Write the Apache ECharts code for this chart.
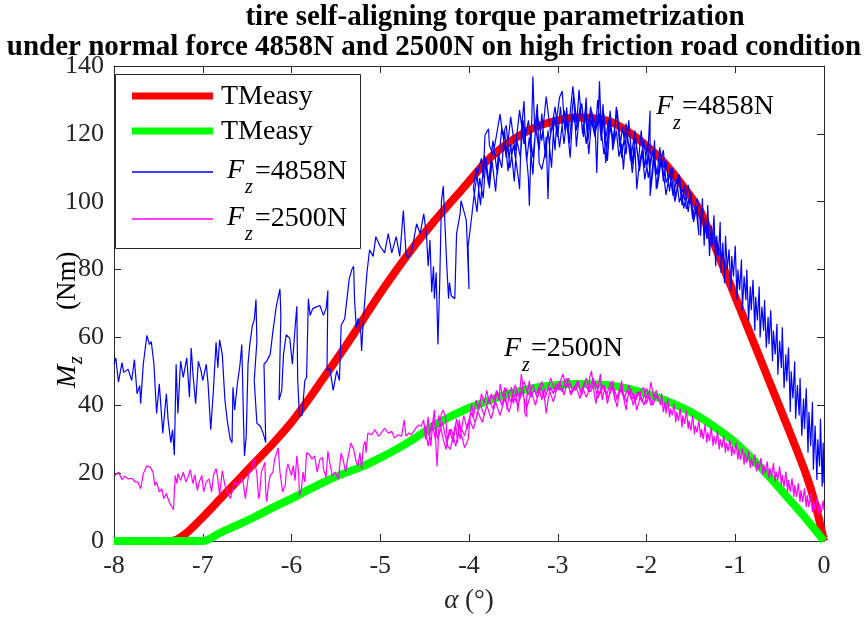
<!DOCTYPE html>
<html>
<head>
<meta charset="utf-8">
<script src="https://cdn.jsdelivr.net/npm/echarts@6/dist/echarts.min.js"></script>
<style>
html, body { margin: 0; padding: 0; background: #fff; }
#chart { width: 867px; height: 619px; }
</style>
</head>
<body>
<div id="chart"></div>
<script>
// Axis ranges and tick steps
const xRange = [-8, 0];
const xStep = 1;
const yRange = [0, 140];
const yStep = 20;

// TMeasy model curve, Fz = 4858 N  [alpha (deg), Mz (Nm)]
const tmeasy4858 = [
  [-8.0, 0], [-7.35, 0], [-7.2, 2], [-7.0, 7], [-6.8, 12.5], [-6.6, 18], [-6.4, 23.5],
  [-6.2, 29], [-6.0, 35], [-5.8, 42], [-5.6, 49.5], [-5.4, 57], [-5.2, 65], [-5.0, 73],
  [-4.8, 80.5], [-4.6, 87.5], [-4.4, 94], [-4.2, 100], [-4.0, 106], [-3.8, 112],
  [-3.6, 116.5], [-3.4, 120], [-3.2, 122.5], [-3.0, 124], [-2.8, 124.8], [-2.6, 124.6],
  [-2.4, 123.5], [-2.2, 120.5], [-2.0, 116.5], [-1.8, 111.5], [-1.6, 105], [-1.4, 97.5],
  [-1.2, 85], [-1.1, 78.5], [-1.0, 72], [-0.8, 59], [-0.6, 46], [-0.4, 33], [-0.2, 19.5],
  [-0.1, 11], [0, 0]
];

// TMeasy model curve, Fz = 2500 N
const tmeasy2500 = [
  [-8.0, 0], [-7.0, 0], [-6.8, 2.5], [-6.6, 4.8], [-6.4, 7.3], [-6.2, 10], [-6.0, 12.5],
  [-5.8, 15.2], [-5.6, 17.8], [-5.4, 20], [-5.2, 22], [-5.0, 24.5], [-4.8, 27.3],
  [-4.6, 30.5], [-4.4, 34], [-4.2, 36.8], [-4.0, 39.2], [-3.8, 41.2], [-3.6, 43],
  [-3.4, 44.4], [-3.2, 45.4], [-3.0, 46], [-2.8, 46.3], [-2.6, 46.2], [-2.4, 45.8],
  [-2.2, 44.8], [-2.0, 43.4], [-1.8, 41.6], [-1.6, 39.3], [-1.4, 36.5], [-1.2, 33],
  [-1.0, 29], [-0.8, 24], [-0.6, 18.5], [-0.4, 12.5], [-0.2, 6.5], [0, 0]
];

// Measured self-aligning torque, Fz = 4858 N (several sweeps, so alpha runs back and forth)
const meas4858 = [
  [-8.00, 52.1], [-7.98, 54], [-7.95, 46.8], [-7.91, 52.6], [-7.89, 49.7], [-7.84, 50.6],
  [-7.80, 47.3], [-7.77, 53.5], [-7.74, 43.4], [-7.71, 45.8], [-7.70, 40.5], [-7.67, 52.1],
  [-7.63, 60.6], [-7.60, 57.9], [-7.58, 58.8], [-7.55, 52.1], [-7.52, 37.6], [-7.49, 46.3],
  [-7.45, 31.8], [-7.41, 43.4], [-7.39, 35.7], [-7.36, 29], [-7.34, 32.8], [-7.32, 25.3],
  [-7.30, 52.1], [-7.28, 37.6], [-7.25, 53], [-7.22, 48.2], [-7.18, 54], [-7.15, 42.4],
  [-7.13, 56.9], [-7.11, 49.2], [-7.08, 40.5], [-7.05, 53], [-7.02, 50.2], [-7.00, 47.3],
  [-6.96, 52.1], [-6.94, 46.3], [-6.91, 32.8], [-6.88, 44.4], [-6.85, 58.6], [-6.83, 51.1],
  [-6.81, 59.3], [-6.78, 55], [-6.75, 41.5], [-6.72, 34.7], [-6.69, 29.9], [-6.67, 29],
  [-6.66, 45.3], [-6.64, 38.6], [-6.61, 46.3], [-6.58, 52.1], [-6.56, 57.9], [-6.54, 34.7],
  [-6.53, 25.1], [-6.51, 30.9], [-6.49, 52.1], [-6.47, 57.9], [-6.44, 63.6], [-6.42, 65.1],
  [-6.40, 71.2], [-6.39, 58.8], [-6.42, 47.3], [-6.39, 34.7], [-6.35, 33.8], [-6.32, 31.8],
  [-6.29, 29], [-6.31, 52.1], [-6.28, 53], [-6.24, 55], [-6.21, 61.7], [-6.17, 69.4],
  [-6.13, 74.3], [-6.12, 66.5], [-6.14, 41.5], [-6.11, 44.4], [-6.09, 55], [-6.06, 60.8],
  [-6.02, 59.8], [-5.99, 52.1], [-5.96, 62.7], [-5.94, 69.2], [-5.93, 47.3], [-5.91, 36.7],
  [-5.88, 37.1], [-5.85, 47.3], [-5.83, 48.2], [-5.81, 71.4], [-5.79, 66.5], [-5.76, 68.5],
  [-5.72, 69], [-5.68, 69.4], [-5.64, 66.5], [-5.61, 68.5], [-5.59, 73.8], [-5.60, 50.2],
  [-5.57, 51.1], [-5.53, 44.4], [-5.49, 50.2], [-5.46, 47.3],
  [-5.44, 63.6], [-5.40, 65.6], [-5.35, 77.2], [-5.32, 80], [-5.30, 81], [-5.29, 71.4],
  [-5.27, 62.7], [-5.25, 65.6], [-5.22, 61.7], [-5.21, 56], [-5.19, 65.6], [-5.15, 79.1],
  [-5.12, 85.8], [-5.08, 83.9], [-5.05, 89.7], [-5.00, 86.8], [-4.95, 84.9], [-4.91, 90.6],
  [-4.87, 84.9], [-4.82, 89.7], [-4.78, 83.9], [-4.74, 97.4], [-4.71, 84.9], [-4.69, 83.4],
  [-4.65, 84.9], [-4.59, 93.5], [-4.55, 90.6], [-4.51, 96.4], [-4.48, 90.6], [-4.46, 81],
  [-4.44, 88.7], [-4.42, 73.3], [-4.40, 81], [-4.39, 71.4], [-4.37, 79.1], [-4.35, 57.9],
  [-4.33, 76.2], [-4.31, 100.3], [-4.29, 104.6], [-4.27, 104.1], [-4.25, 81], [-4.23, 71.4],
  [-4.22, 76.2], [-4.20, 72.3], [-4.16, 71.4], [-4.14, 90.6], [-4.10, 96.4], [-4.09, 100.3],
  [-4.07, 98.4], [-4.03, 94.5], [-4.00, 74.3], [-4.01, 86.8], [-3.97, 95.5], [-3.95, 100.3],
  [-3.92, 106.1], [-3.89, 109.9], [-3.86, 112.8], [-3.84, 107], [-3.82, 119.6], [-3.78, 121.5],
  [-3.77, 116.7], [-3.73, 113.8], [-3.69, 119.6], [-3.65, 125.8], [-3.62, 119.6], [-3.58, 122.5],
  [-3.54, 109.9], [-3.50, 116.7], [-3.47, 111.9], [-3.44, 106.1],
  [-3.43, 103.7], [-3.41, 121], [-3.38, 129.7], [-3.36, 116.2], [-3.33, 106.6], [-3.32, 98.8],
  [-3.30, 117.2], [-3.28, 136.9], [-3.26, 121], [-3.23, 128.7], [-3.21, 111.4], [-3.18, 109.5],
  [-3.15, 113.3], [-3.13, 119.1], [-3.11, 100.8], [-3.09, 118.1], [-3.06, 123], [-3.03, 115.2],
  [-3.01, 124.9], [-2.98, 130.7], [-2.95, 132.6], [-2.92, 121], [-2.90, 127.8], [-2.87, 117.2],
  [-2.85, 123], [-2.82, 131.6], [-2.79, 116.2], [-2.75, 127.8], [-2.71, 119.1], [-2.68, 130.7],
  [-2.66, 118.1], [-2.62, 126.8], [-2.58, 123], [-2.56, 108.5], [-2.53, 135.5], [-2.51, 121],
  [-2.49, 128.7], [-2.46, 111.4], [-2.43, 121], [-2.41, 126.8], [-2.38, 115.2], [-2.34, 121],
  [-2.31, 113.3], [-2.28, 117.2], [-2.26, 109.5], [-2.23, 120], [-2.19, 116.2], [-2.16, 108.5],
  [-2.13, 116.2], [-2.11, 103.7], [-2.08, 111.4], [-2.05, 115.2], [-2.02, 106.6], [-1.99, 111.4],
  [-1.96, 126.8], [-1.96, 101.7], [-1.93, 108.5], [-1.91, 118.1], [-1.89, 103.7], [-1.85, 111.4],
  [-1.81, 115.2], [-1.78, 105.6], [-1.74, 108.5], [-1.70, 101.7], [-1.66, 106.6], [-1.63, 99.8],
  [-1.59, 103.7], [-1.55, 97.9], [-1.51, 101.7], [-1.48, 95], [-1.44, 97.9], [-1.41, 90.2],
  // return sweep
  [-1.43, 99], [-1.47, 94], [-1.50, 103], [-1.53, 97], [-1.57, 105], [-1.60, 99], [-1.64, 108],
  [-1.67, 101], [-1.71, 110], [-1.74, 103], [-1.78, 112], [-1.81, 106], [-1.85, 116], [-1.88, 108],
  [-1.92, 114], [-1.95, 105], [-1.99, 117], [-2.02, 110], [-2.06, 121], [-2.09, 112], [-2.13, 119],
  [-2.16, 111], [-2.20, 124], [-2.23, 114], [-2.27, 122], [-2.30, 116], [-2.34, 128], [-2.37, 117],
  [-2.41, 124], [-2.44, 112], [-2.48, 126], [-2.51, 118], [-2.55, 130], [-2.58, 119], [-2.62, 124],
  [-2.65, 114], [-2.69, 127], [-2.72, 120], [-2.76, 133], [-2.79, 121], [-2.83, 126], [-2.86, 113],
  [-2.90, 124], [-2.93, 117], [-2.97, 128], [-3.00, 119], [-3.04, 125], [-3.07, 110], [-3.11, 121],
  [-3.14, 113], [-3.18, 126], [-3.21, 115], [-3.25, 122], [-3.28, 108], [-3.32, 119], [-3.35, 112],
  [-3.39, 124], [-3.42, 113], [-3.46, 118], [-3.49, 106], [-3.53, 117], [-3.56, 109], [-3.60, 121],
  [-3.63, 110], [-3.67, 114], [-3.70, 103], [-3.74, 112], [-3.77, 104], [-3.81, 113], [-3.84, 101],
  [-3.88, 107], [-3.91, 97], [-3.95, 104],
  // forward sweep
  [-3.92, 110], [-3.87, 99], [-3.83, 114], [-3.78, 105], [-3.73, 118], [-3.68, 108], [-3.63, 122],
  [-3.58, 113], [-3.53, 125], [-3.48, 115], [-3.43, 127], [-3.38, 117], [-3.33, 124], [-3.28, 113],
  [-3.23, 126], [-3.18, 118], [-3.13, 131], [-3.08, 120], [-3.03, 128], [-2.98, 116], [-2.93, 127],
  [-2.88, 121], [-2.83, 134], [-2.78, 122], [-2.73, 129], [-2.68, 117], [-2.63, 128], [-2.58, 120],
  [-2.53, 126], [-2.48, 114], [-2.43, 124], [-2.38, 118], [-2.33, 127], [-2.28, 113], [-2.23, 123],
  [-2.18, 112], [-2.13, 121], [-2.08, 109], [-2.03, 118], [-1.98, 107], [-1.93, 115], [-1.88, 104],
  [-1.83, 113], [-1.78, 102], [-1.73, 110], [-1.68, 100], [-1.63, 108], [-1.58, 98], [-1.53, 105],
  [-1.48, 96], [-1.43, 101],
  [-1.40, 98], [-1.39, 90], [-1.37, 101], [-1.35, 87], [-1.34, 95], [-1.32, 89], [-1.31, 99],
  [-1.29, 84], [-1.27, 93], [-1.26, 87], [-1.24, 96], [-1.22, 81], [-1.21, 90], [-1.19, 84],
  [-1.17, 94], [-1.16, 79], [-1.14, 88], [-1.12, 76], [-1.11, 90], [-1.09, 80], [-1.07, 86],
  [-1.05, 74], [-1.04, 84], [-1.02, 78], [-1.00, 87], [-0.98, 71], [-0.97, 80], [-0.95, 74],
  [-0.93, 83], [-0.92, 68], [-0.90, 78], [-0.88, 71], [-0.87, 80], [-0.85, 65], [-0.83, 75],
  [-0.82, 68], [-0.80, 77], [-0.78, 62], [-0.77, 72], [-0.75, 65], [-0.73, 75], [-0.72, 60],
  [-0.70, 69], [-0.68, 62], [-0.67, 71], [-0.65, 57], [-0.63, 66], [-0.62, 58], [-0.60, 68],
  [-0.58, 53], [-0.57, 62], [-0.55, 55], [-0.53, 64], [-0.52, 49], [-0.50, 59], [-0.48, 51],
  [-0.47, 63], [-0.45, 45], [-0.43, 55], [-0.42, 47], [-0.40, 57], [-0.38, 38], [-0.37, 50],
  [-0.35, 42], [-0.33, 53], [-0.32, 36], [-0.30, 46], [-0.28, 37], [-0.27, 48], [-0.25, 31],
  [-0.23, 42], [-0.22, 33], [-0.20, 45], [-0.18, 26], [-0.17, 38], [-0.15, 28], [-0.13, 41],
  [-0.12, 21], [-0.10, 34], [-0.08, 18], [-0.07, 30], [-0.05, 22], [-0.04, 36], [-0.02, 16],
  [-0.01, 29], [0.00, 20], [-0.01, 27], [0.00, 17]
];

// Measured self-aligning torque, Fz = 2500 N
const meas2500 = [
  [-7.99, 19.3], [-7.95, 20.3], [-7.91, 18.1], [-7.88, 19.1], [-7.84, 18.3], [-7.80, 18.5],
  [-7.76, 17.4], [-7.73, 17.4], [-7.70, 15.4], [-7.67, 19.8], [-7.63, 22.2], [-7.59, 21.7],
  [-7.56, 20.3], [-7.54, 16.4], [-7.52, 17.4], [-7.49, 14.5], [-7.46, 15.4], [-7.44, 12.5],
  [-7.41, 14], [-7.38, 11.6], [-7.35, 10.1], [-7.33, 9.2], [-7.31, 19.3], [-7.29, 16.9],
  [-7.28, 19.8], [-7.25, 17.8], [-7.22, 20.3], [-7.19, 17.4], [-7.16, 19.3], [-7.14, 21],
  [-7.11, 16.9], [-7.09, 19.5], [-7.06, 15], [-7.04, 17.4], [-7.01, 19.3], [-6.99, 14.5],
  [-6.96, 17.4], [-6.93, 18.3], [-6.90, 14.5], [-6.88, 19.3], [-6.85, 21.4], [-6.83, 18.3],
  [-6.81, 13.5], [-6.78, 20.7], [-6.75, 16.4], [-6.72, 14.5], [-6.69, 12.5], [-6.66, 15.4],
  [-6.64, 17.4], [-6.61, 16.4], [-6.58, 17.8], [-6.55, 18.3], [-6.52, 12.5], [-6.51, 14.5],
  [-6.48, 20.3], [-6.45, 21.2], [-6.42, 24.1], [-6.39, 19.8], [-6.37, 12.5], [-6.36, 13.5],
  [-6.34, 20.3], [-6.32, 21.7], [-6.30, 23.2], [-6.29, 14.5], [-6.28, 11.6], [-6.26, 16.4],
  [-6.24, 19.3], [-6.21, 20.3], [-6.19, 24.1], [-6.15, 27.5], [-6.13, 20.3], [-6.10, 14.5],
  [-6.07, 16.4], [-6.06, 20.3], [-6.04, 22.7], [-6.02, 23.2], [-6.00, 19.3], [-5.98, 22.2],
  [-5.96, 17.8], [-5.94, 25.1], [-5.92, 20.3], [-5.91, 13.5], [-5.89, 15], [-5.87, 20.3],
  [-5.85, 17.4], [-5.83, 26], [-5.80, 25.6], [-5.77, 24.1], [-5.74, 25.1], [-5.71, 20.3],
  [-5.68, 24.1], [-5.65, 24.6], [-5.64, 21.2], [-5.61, 18.8], [-5.59, 26.5], [-5.57, 23.2],
  [-5.54, 19.3], [-5.51, 20.3], [-5.47, 18.3], [-5.46, 21.2], [-5.44, 26], [-5.42, 24.1],
  [-5.39, 20.3], [-5.36, 25.1], [-5.33, 28.9], [-5.31, 29.4], [-5.30, 27], [-5.27, 23.2],
  [-5.25, 22.2], [-5.23, 26], [-5.21, 21.2], [-5.19, 28], [-5.17, 29.4], [-5.16, 26],
  [-5.14, 31.8], [-5.10, 31.3], [-5.06, 32.8], [-5.02, 30.9], [-4.99, 31.8], [-4.95, 33.3],
  [-4.91, 31.8], [-4.87, 32.3], [-4.84, 30.4], [-4.80, 31.3], [-4.76, 30.9], [-4.73, 35.7],
  [-4.71, 30.9], [-4.68, 31.8], [-4.65, 31.3], [-4.61, 32.8], [-4.57, 34.2], [-4.54, 33.8],
  [-4.51, 35.7], [-4.49, 29.9], [-4.46, 36.6], [-4.43, 28], [-4.41, 34.7], [-4.39, 38.6],
  [-4.37, 26.5], [-4.36, 22], [-4.34, 32.8], [-4.31, 37.6], [-4.29, 38.6], [-4.26, 35.7],
  [-4.24, 28], [-4.21, 27], [-4.18, 30.9], [-4.15, 34.7], [-4.13, 28.9], [-4.11, 35.7],
  [-4.09, 31.8], [-4.05, 27.5], [-4.01, 29.9], [-3.99, 35.7], [-3.97, 40.5], [-3.95, 36.6],
  [-3.92, 41.5], [-3.89, 38.6], [-3.86, 43.4], [-3.83, 40.5], [-3.80, 44.4], [-3.77, 40.5],
  [-3.75, 43.4], [-3.72, 41.5], [-3.69, 44.4], [-3.66, 41.5], [-3.65, 46.3], [-3.62, 42.4],
  [-3.60, 45.3], [-3.57, 38.6], [-3.55, 43.4], [-3.52, 45.3], [-3.50, 40.5], [-3.47, 44.4],
  [-3.45, 38.1], [-3.43, 43.4], [-3.41, 49.2], [-3.39, 45.3], [-3.37, 37.6], [-3.35, 36.6],
  [-3.35, 42.4], [-3.32, 47.2], [-3.30, 42.4], [-3.27, 44.4], [-3.24, 43.4], [-3.21, 45.3],
  [-3.18, 41.5], [-3.16, 44.4], [-3.13, 37.6], [-3.11, 41.5], [-3.08, 45.3], [-3.05, 43.4],
  [-3.02, 46.3], [-2.99, 44.4], [-2.97, 47.2], [-2.94, 49.2], [-2.91, 45.3], [-2.88, 46.3],
  [-2.86, 43.4], [-2.83, 45.3], [-2.80, 44.4], [-2.77, 47.2], [-2.75, 44.4], [-2.72, 45.3],
  [-2.68, 42.4], [-2.66, 43.4], [-2.64, 48.2], [-2.62, 50.1], [-2.60, 45.3], [-2.57, 40.5],
  [-2.55, 44.4], [-2.52, 49.2], [-2.50, 41.5], [-2.47, 45.3], [-2.44, 40.5], [-2.41, 44.4],
  [-2.38, 47.2], [-2.36, 42.4], [-2.33, 39.5], [-2.31, 43.4], [-2.28, 47.2], [-2.26, 42.4],
  [-2.23, 38.6], [-2.20, 44.4], [-2.17, 41.5], [-2.14, 43.4], [-2.11, 38.6], [-2.08, 41.5],
  [-2.06, 44.4], [-2.03, 45.3], [-2.00, 40.5], [-1.97, 43.4], [-1.95, 46.8], [-1.92, 42.4],
  [-1.89, 44.4], [-1.86, 41.5],
  // return sweep
  [-1.90, 43], [-1.95, 40], [-2.00, 45], [-2.05, 41], [-2.10, 44], [-2.15, 40], [-2.20, 46],
  [-2.25, 42], [-2.30, 45], [-2.35, 41], [-2.40, 47], [-2.45, 43], [-2.50, 46], [-2.55, 42],
  [-2.60, 48], [-2.65, 44], [-2.70, 47], [-2.75, 42], [-2.80, 46], [-2.85, 43], [-2.90, 48],
  [-2.95, 44], [-3.00, 46], [-3.05, 41], [-3.10, 45], [-3.15, 42], [-3.20, 46], [-3.25, 40],
  [-3.30, 44], [-3.35, 39], [-3.40, 44], [-3.45, 40], [-3.50, 43], [-3.55, 38], [-3.60, 42],
  [-3.65, 37], [-3.70, 41], [-3.75, 36], [-3.80, 40], [-3.85, 35], [-3.90, 38], [-3.95, 33],
  [-4.00, 36], [-4.05, 31], [-4.10, 34], [-4.15, 28], [-4.20, 33], [-4.25, 29], [-4.30, 35],
  [-4.35, 30], [-4.40, 36], [-4.45, 31], [-4.50, 34],
  // forward sweep
  [-4.46, 28], [-4.42, 35], [-4.38, 30], [-4.34, 37], [-4.30, 31], [-4.26, 27], [-4.22, 33],
  [-4.18, 29], [-4.14, 36], [-4.10, 30], [-4.06, 37], [-4.02, 33], [-3.98, 38], [-3.93, 35],
  [-3.88, 41], [-3.83, 37], [-3.78, 42], [-3.73, 39], [-3.68, 44], [-3.63, 40], [-3.58, 45],
  [-3.53, 41], [-3.48, 46], [-3.43, 42], [-3.38, 47], [-3.33, 43], [-3.28, 46], [-3.23, 42],
  [-3.18, 47], [-3.13, 43], [-3.08, 48], [-3.03, 44], [-2.98, 47], [-2.93, 43], [-2.88, 48],
  [-2.83, 44], [-2.78, 47], [-2.73, 43], [-2.68, 48], [-2.63, 44], [-2.58, 47], [-2.53, 43],
  [-2.48, 46], [-2.43, 42], [-2.38, 46], [-2.33, 42], [-2.28, 45], [-2.23, 41], [-2.18, 45],
  [-2.13, 41], [-2.08, 44], [-2.03, 40], [-1.98, 44], [-1.93, 40], [-1.88, 43],
  [-1.84, 40], [-1.83, 43.5], [-1.81, 38], [-1.79, 41], [-1.78, 37.5], [-1.76, 42], [-1.74, 36.5],
  [-1.73, 39], [-1.71, 37], [-1.69, 40.5], [-1.67, 35], [-1.66, 38], [-1.64, 35.5], [-1.62, 39],
  [-1.60, 33.5], [-1.59, 37], [-1.57, 34.5], [-1.55, 38.5], [-1.53, 33], [-1.52, 35.5],
  [-1.50, 32.5], [-1.48, 37], [-1.46, 31.5], [-1.45, 34], [-1.43, 32], [-1.41, 35.5],
  [-1.39, 30.5], [-1.38, 33], [-1.36, 30], [-1.34, 34.5], [-1.32, 29], [-1.31, 32], [-1.29, 29.5],
  [-1.27, 33.5], [-1.25, 28], [-1.24, 31], [-1.22, 28.5], [-1.20, 32.5], [-1.18, 27], [-1.17, 30],
  [-1.15, 27.5], [-1.13, 31], [-1.11, 26], [-1.10, 29], [-1.08, 26.5], [-1.06, 30], [-1.04, 25],
  [-1.03, 28], [-1.01, 25.5], [-0.99, 29], [-0.97, 24], [-0.96, 27], [-0.94, 24], [-0.92, 27.5],
  [-0.90, 22.5], [-0.89, 26], [-0.87, 23], [-0.85, 26.5], [-0.83, 21.5], [-0.82, 24.5], [-0.80, 22],
  [-0.78, 25.5], [-0.76, 20.5], [-0.75, 23.5], [-0.73, 21], [-0.71, 24.5], [-0.69, 19.5],
  [-0.68, 22.5], [-0.66, 20], [-0.64, 23.5], [-0.62, 18.5], [-0.61, 21.5], [-0.59, 19], [-0.57, 23],
  [-0.55, 17.5], [-0.54, 20.5], [-0.52, 18], [-0.50, 22], [-0.48, 16.5], [-0.47, 19.5], [-0.45, 16],
  [-0.43, 20.5], [-0.41, 14.5], [-0.40, 18], [-0.38, 14.5], [-0.36, 18.5], [-0.34, 13], [-0.33, 16.5],
  [-0.31, 13], [-0.29, 17], [-0.27, 11.5], [-0.26, 15], [-0.24, 11.5], [-0.22, 15.5], [-0.20, 10],
  [-0.19, 13.5], [-0.17, 10], [-0.15, 14], [-0.13, 8.5], [-0.12, 12], [-0.10, 9], [-0.08, 12.5],
  [-0.06, 8], [-0.05, 11], [-0.03, 8.5], [-0.01, 12], [0.00, 9]
];

const AXIS_COLOR = '#262626';
const SERIF = '"Liberation Serif", "Times New Roman", serif';

const chart = echarts.init(document.getElementById('chart'), null, { renderer: 'canvas' });

const grid = { left: 114, top: 66, width: 710, height: 484 };

function axisCommon(showLabels, margin) {
  return {
    axisLine: { show: true, onZero: false, lineStyle: { color: AXIS_COLOR, width: 1 } },
    axisTick: { show: true, inside: true, length: 7, lineStyle: { color: AXIS_COLOR, width: 1 } },
    axisLabel: {
      show: showLabels, color: AXIS_COLOR, fontFamily: SERIF, fontSize: 26, margin: margin || 10
    },
    splitLine: { show: false }
  };
}

function textEl(x, y, text, font, align) {
  return {
    type: 'text', x: x, y: y, silent: true,
    style: {
      text: text, font: font, fill: '#000',
      align: align || 'left', verticalAlign: 'middle',
      textAlign: align || 'left', textVerticalAlign: 'middle'
    }
  };
}

const fontMain = '28px ' + SERIF;
const fontItal = 'italic 28px ' + SERIF;
const fontSub = 'italic 20px ' + SERIF;

chart.setOption({
  animation: false,
  backgroundColor: '#fff',
  title: [
    {
      text: 'tire self-aligning torque parametrization',
      left: 495, top: 3, textAlign: 'center', padding: 0,
      textStyle: { fontFamily: SERIF, fontWeight: 'bold', fontSize: 29, color: '#000' }
    },
    {
      text: 'under normal force 4858N and 2500N on high friction road condition',
      left: 434, top: 33, textAlign: 'center', padding: 0,
      textStyle: { fontFamily: SERIF, fontWeight: 'bold', fontSize: 29, color: '#000' }
    }
  ],
  grid: grid,
  xAxis: [
    Object.assign({
      type: 'value', min: xRange[0], max: xRange[1], interval: xStep, position: 'bottom',
      name: '{i|α} (°)', nameLocation: 'middle', nameGap: 46,
      nameTextStyle: {
        fontFamily: SERIF, fontSize: 27, color: AXIS_COLOR,
        rich: { i: { fontFamily: SERIF, fontStyle: 'italic', fontSize: 27, color: AXIS_COLOR } }
      }
    }, axisCommon(true, 12)),
    Object.assign({
      type: 'value', min: xRange[0], max: xRange[1], interval: xStep, position: 'top'
    }, axisCommon(false))
  ],
  yAxis: [
    Object.assign({
      type: 'value', min: yRange[0], max: yRange[1], interval: yStep, position: 'left'
    }, axisCommon(true, 10)),
    Object.assign({
      type: 'value', min: yRange[0], max: yRange[1], interval: yStep, position: 'right'
    }, axisCommon(false))
  ],
  series: [
    {
      name: 'TMeasy', type: 'line', data: tmeasy4858, showSymbol: false, smooth: 0.3,
      lineStyle: { color: '#ff0000', width: 8 }, z: 2
    },
    {
      name: 'TMeasy ', type: 'line', data: tmeasy2500, showSymbol: false, smooth: 0.3,
      lineStyle: { color: '#00ff00', width: 8 }, z: 2
    },
    {
      name: 'Fz=4858N', type: 'line', data: meas4858, showSymbol: false,
      lineStyle: { color: '#0000ff', width: 1.2 }, z: 3
    },
    {
      name: 'Fz=2500N', type: 'line', data: meas2500, showSymbol: false,
      lineStyle: { color: '#ff00ff', width: 1.2 }, z: 3
    }
  ],
  graphic: [
    // y-axis label, read bottom to top
    {
      type: 'group', x: 68, y: 388, rotation: Math.PI / 2, silent: true,
      children: [
        textEl(0, 0, 'M', fontItal),
        textEl(24, 9, 'z', fontSub),
        textEl(78, 0, '(Nm)', '27px ' + SERIF)
      ]
    },
    // legend box
    {
      type: 'rect', shape: { x: 115.5, y: 74.5, width: 245, height: 174 }, z: 10, silent: true,
      style: { fill: '#fff', stroke: AXIS_COLOR, lineWidth: 1 }
    },
    { type: 'line', z: 11, shape: { x1: 132, y1: 96, x2: 213, y2: 96 }, style: { stroke: '#ff0000', lineWidth: 7 } },
    Object.assign(textEl(221, 97, 'TMeasy', fontMain), { z: 11 }),
    { type: 'line', z: 11, shape: { x1: 132, y1: 131, x2: 213, y2: 131 }, style: { stroke: '#00ff00', lineWidth: 7 } },
    Object.assign(textEl(221, 132, 'TMeasy', fontMain), { z: 11 }),
    { type: 'line', z: 11, shape: { x1: 132, y1: 172, x2: 213, y2: 172 }, style: { stroke: '#0000ff', lineWidth: 1.5 } },
    Object.assign(textEl(227, 171, 'F', fontItal), { z: 11 }),
    Object.assign(textEl(245, 188, 'z', fontSub), { z: 11 }),
    Object.assign(textEl(255, 172, '=4858N', fontMain), { z: 11 }),
    { type: 'line', z: 11, shape: { x1: 132, y1: 219, x2: 213, y2: 219 }, style: { stroke: '#ff00ff', lineWidth: 1.5 } },
    Object.assign(textEl(227, 218, 'F', fontItal), { z: 11 }),
    Object.assign(textEl(245, 235, 'z', fontSub), { z: 11 }),
    Object.assign(textEl(255, 219, '=2500N', fontMain), { z: 11 }),
    // curve annotations
    textEl(656, 107, 'F', fontItal),
    textEl(673, 124, 'z', fontSub),
    textEl(682, 107, '=4858N', fontMain),
    textEl(504, 349, 'F', fontItal),
    textEl(522, 366, 'z', fontSub),
    textEl(531, 349, '=2500N', fontMain)
  ]
});
</script>
</body>
</html>
